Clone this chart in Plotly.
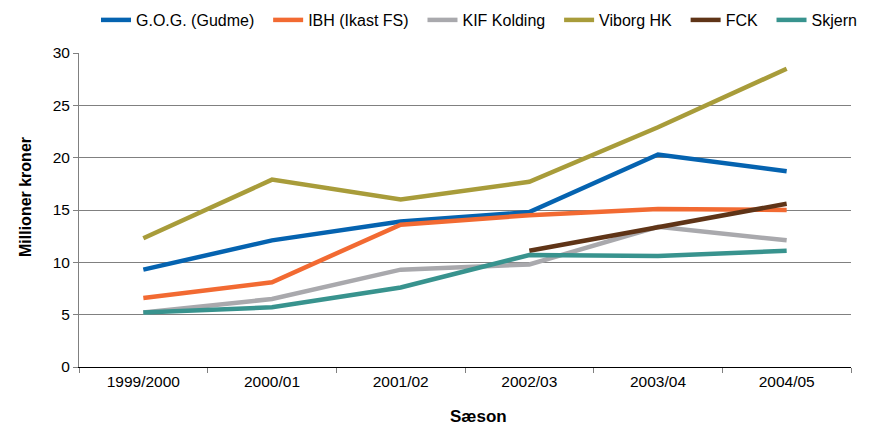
import plotly.graph_objects as go

seasons = ["1999/2000", "2000/01", "2001/02", "2002/03", "2003/04", "2004/05"]
gog = [9.3, 12.1, 13.9, 14.8, 20.3, 18.7]
ibh = [6.6, 8.1, 13.6, 14.5, 15.1, 15.0]
kif = [5.2, 6.5, 9.3, 9.8, 13.4, 12.1]
viborg = [12.3, 17.9, 16.0, 17.7, 22.9, 28.5]
fck = [None, None, None, 11.1, 13.4, 15.6]
skjern = [5.2, 5.7, 7.6, 10.7, 10.6, 11.1]

names = ["G.O.G. (Gudme)", "IBH (Ikast FS)", "KIF Kolding", "Viborg HK", "FCK", "Skjern"]
series = [gog, ibh, kif, viborg, fck, skjern]
colors = ["#0563B0", "#F26A32", "#A9A9AD", "#A89C3A", "#5F3417", "#38938E"]

pad = "\u00a0\u00a0"
fig = go.Figure()
for i, (n, s, c) in enumerate(zip(names, series, colors)):
    label = n + (pad if i < len(names) - 1 else "")
    fig.add_trace(go.Scatter(x=seasons, y=s, name=label, mode="lines",
                             line=dict(color=c, width=4.5), connectgaps=False))

# page has an 8px body margin; size the figure so it fills the window
OFF = 8
W, H = 869 - OFF, 426 - OFF
L, R, T, B = 79 - OFF, 18, 53 - OFF, 59
PW, PH = W - L - R, H - T - B


def px_x(page_x):
    return (page_x - OFF - L) / PW


def px_y(page_y):
    return (H - B - (page_y - OFF)) / PH


fig.update_layout(
    width=W, height=H,
    margin=dict(l=L, r=R, t=T, b=B, autoexpand=False),
    paper_bgcolor="white", plot_bgcolor="white",
    font=dict(family="Liberation Sans, Arial, sans-serif", size=15.5, color="black"),
    legend=dict(orientation="h", xref="container", x=88 / W, xanchor="left",
                yref="container", y=1 - (20 - OFF) / H, yanchor="middle",
                font=dict(size=16), itemwidth=30, tracegroupgap=0),
    xaxis=dict(type="category", range=[-0.5, 5.5], tickson="boundaries",
               ticks="outside", ticklen=5, tickcolor="#808080",
               showline=True, linecolor="black", linewidth=1,
               showgrid=False, tickfont=dict(size=15.5)),
    yaxis=dict(range=[0, 30], dtick=5, ticks="outside", ticklen=5, tickcolor="#808080",
               showline=True, linecolor="#808080", linewidth=1,
               showgrid=True, gridcolor="#808080", gridwidth=1, zeroline=False,
               tickfont=dict(size=15.5)),
    annotations=[
        dict(text="<b>Sæson</b>", xref="paper", yref="paper",
             x=px_x(479), y=px_y(416),
             xanchor="center", yanchor="middle", showarrow=False, font=dict(size=17)),
        dict(text="<b>Millioner kroner</b>", xref="paper", yref="paper", textangle=-90,
             x=px_x(25), y=px_y(197),
             xanchor="center", yanchor="middle", showarrow=False, font=dict(size=16)),
    ],
)
fig.write_html("out.html")
